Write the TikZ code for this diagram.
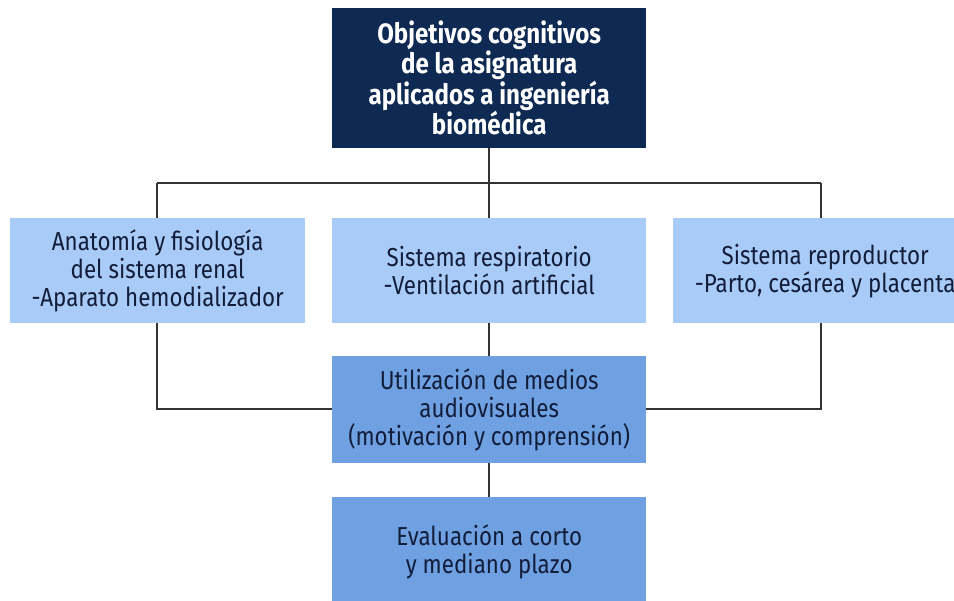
\documentclass[tikz,border=0pt]{standalone}
\usepackage{fontspec}
\setmainfont{Fira Sans}[FakeStretch=0.86]
\definecolor{navy}{HTML}{0E2A52}
\definecolor{lightb}{HTML}{A9CBF7}
\definecolor{midb}{HTML}{6FA0E2}
\definecolor{txtd}{HTML}{121D3A}
\definecolor{linec}{HTML}{333333}
\begin{document}
\begin{tikzpicture}[x=1pt,y=-1pt,
  boxbase/.style={anchor=north west,inner sep=0pt,align=center,text=txtd,font=\fontsize{26}{28}\selectfont},
  conn/.style={draw=linec,line width=1.8pt}]
\useasboundingbox (0,0) rectangle (954,601);
\clip (0,0) rectangle (954,601);
\node[boxbase,fill=navy,text=white,minimum width=314pt,minimum height=140pt,font=\fontsize{28}{29.5}\selectfont\bfseries] (top) at (332,8)
  {Objetivos cognitivos\\de la asignatura\\aplicados a ingeniería\\biomédica};
\node[boxbase,fill=lightb,minimum width=295pt,minimum height=105pt] (left) at (10,218)
  {Anatomía y fisiología\\del sistema renal\\-Aparato hemodializador};
\node[boxbase,fill=lightb,minimum width=314pt,minimum height=105pt] (mid) at (332,218)
  {Sistema respiratorio\\-Ventilación artificial};
\node[boxbase,fill=lightb,minimum width=304pt,minimum height=105pt] (right) at (673,218)
  {Sistema reproductor\\-Parto, cesárea y placenta};
\node[boxbase,fill=midb,minimum width=314pt,minimum height=107pt] (av) at (332,356)
  {Utilización de medios\\audiovisuales\\(motivación y comprensión)};
\node[boxbase,fill=midb,minimum width=314pt,minimum height=110pt] (ev) at (332,497)
  {Evaluación a corto\\y mediano plazo};
\coordinate (hl) at (157,183);
\coordinate (hr) at (821,183);
\coordinate (bl) at (157,409);
\coordinate (br) at (821,409);
\draw[conn] (top.south) -- (mid.north);
\draw[conn] (hl) -- (hr);
\draw[conn] (hl) -- (left.north -| hl);
\draw[conn] (hr) -- (right.north -| hr);
\draw[conn] (left.south -| hl) -- (bl) -- (av.west |- bl);
\draw[conn] (right.south -| hr) -- (br) -- (av.east |- br);
\draw[conn] (mid.south) -- (av.north);
\draw[conn] (av.south) -- (ev.north);
\end{tikzpicture}
\end{document}
